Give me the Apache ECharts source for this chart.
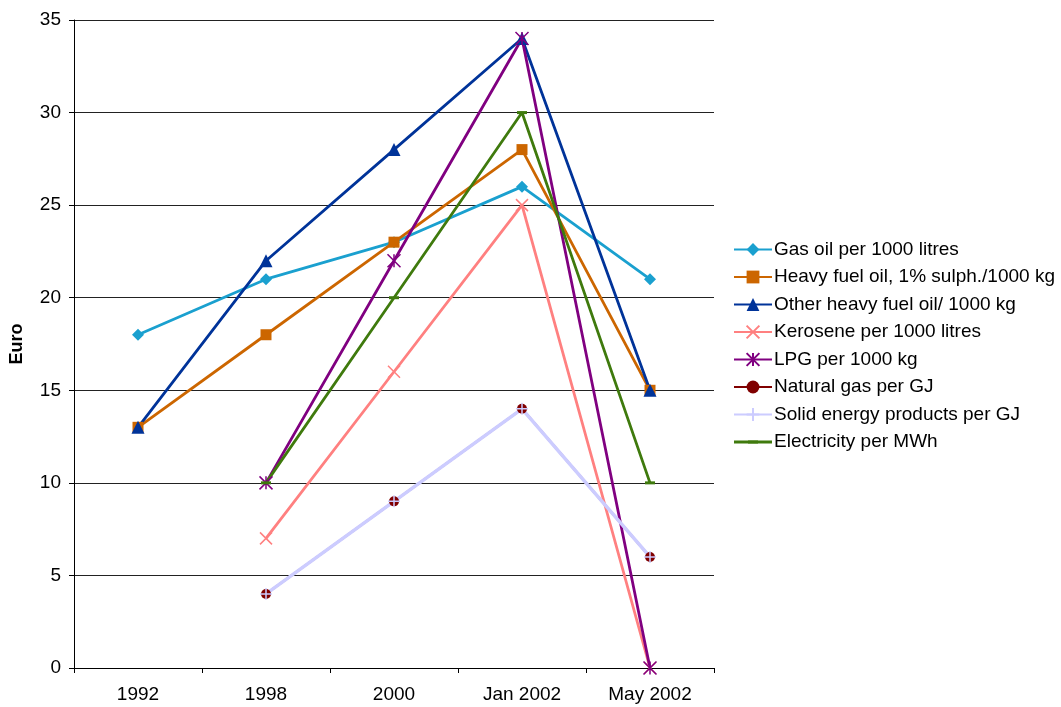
<!DOCTYPE html>
<html><head><meta charset="utf-8">
<script src="https://cdn.jsdelivr.net/npm/echarts@6/dist/echarts.min.js"></script>
<style>html,body{margin:0;padding:0;background:#fff}#c{width:1061px;height:707px}</style>
</head><body><div id="c"></div>
<script>
const categories = ['1992', '1998', '2000', 'Jan 2002', 'May 2002'];
const gasOil = [18, 21, 23, 26, 21];
const heavyFuel1 = [13, 18, 23, 28, 15];
const otherHeavy = [13, 22, 28, 34, 15];
const kerosene = [null, 7, 16, 25, 0];
const lpg = [null, 10, 22, 34, 0];
const naturalGas = [null, 4, 9, 14, 6];
const solidEnergy = [null, 4, 9, 14, 6];
const electricity = [null, 10, 20, 30, 10];
const seriesNames = ['Gas oil per 1000 litres', 'Heavy fuel oil, 1% sulph./1000 kg', 'Other heavy fuel oil/ 1000 kg', 'Kerosene per 1000 litres', 'LPG per 1000 kg', 'Natural gas per GJ', 'Solid energy products per GJ', 'Electricity per MWh'];

const FONT = 'Liberation Sans, Arial, sans-serif';
const X_PATH = 'path://M0,0L10,10M10,0L0,10';
const AST_PATH = 'path://M0,0L10,10M10,0L0,10M5,0L5,10';
const PLUS_PATH = 'path://M5,0L5,10M0,5L10,5';
const ELEC_LEGEND = 'path://M0,0.4L38,0.4L38,3.2L0,3.2Z M14,0L24,0L24,3.6L14,3.6Z';

function mk(name, data, color, symbol, size, lw, stroke) {
  return {
    name: name, type: 'line', data: data, color: color,
    symbol: symbol, symbolSize: size, connectNulls: false,
    lineStyle: {color: color, width: lw},
    itemStyle: {color: color, borderColor: color, borderWidth: stroke || 0},
    emphasis: {disabled: true}
  };
}

const legendData = seriesNames.map((n, i) => i === 7 ? {name: n, icon: ELEC_LEGEND} : {name: n});

const chart = echarts.init(document.getElementById('c'));
chart.setOption({
  animation: false,
  backgroundColor: '#fff',
  textStyle: {fontFamily: FONT},
  grid: {left: 74, top: 20, width: 640, height: 648},
  legend: {
    orient: 'vertical', left: 728, top: 235,
    itemWidth: 38, itemHeight: 16, itemGap: 8.5,
    textStyle: {fontFamily: FONT, fontSize: 19, color: '#000', padding: [0, 0, 0, -3]},
    data: legendData
  },
  xAxis: {
    type: 'category', data: categories, boundaryGap: true,
    axisLine: {lineStyle: {color: '#000', width: 1}},
    axisTick: {show: true, length: 5, lineStyle: {color: '#000'}},
    axisLabel: {fontFamily: FONT, fontSize: 19, color: '#000', margin: 17}
  },
  yAxis: {
    type: 'value', min: 0, max: 35, interval: 5,
    name: 'Euro', nameLocation: 'middle', nameGap: 48, nameRotate: 90,
    nameTextStyle: {fontFamily: FONT, fontSize: 18, fontWeight: 'bold', color: '#000'},
    axisLine: {show: true, lineStyle: {color: '#000', width: 1}},
    axisTick: {show: true, length: 5, lineStyle: {color: '#000'}},
    axisLabel: {fontFamily: FONT, fontSize: 19, color: '#000', margin: 13},
    splitLine: {show: true, lineStyle: {color: '#222', width: 1}}
  },
  series: [
    mk(seriesNames[0], gasOil, '#1AA0CF', 'diamond', 12, 2.8),
    mk(seriesNames[1], heavyFuel1, '#CC6600', 'rect', 11, 2.8),
    mk(seriesNames[2], otherHeavy, '#003399', 'triangle', 13, 2.8),
    mk(seriesNames[3], kerosene, '#FF8080', X_PATH, 12, 2.8, 1.5),
    mk(seriesNames[4], lpg, '#800080', AST_PATH, 13, 2.8, 1.5),
    mk(seriesNames[5], naturalGas, '#800000', 'circle', 10, 2.2),
    mk(seriesNames[6], solidEnergy, '#CCCCFF', PLUS_PATH, 12, 3.5, 1.5),
    mk(seriesNames[7], electricity, '#3F7A0D', 'rect', [10, 3], 2.8)
  ]
});
</script></body></html>
